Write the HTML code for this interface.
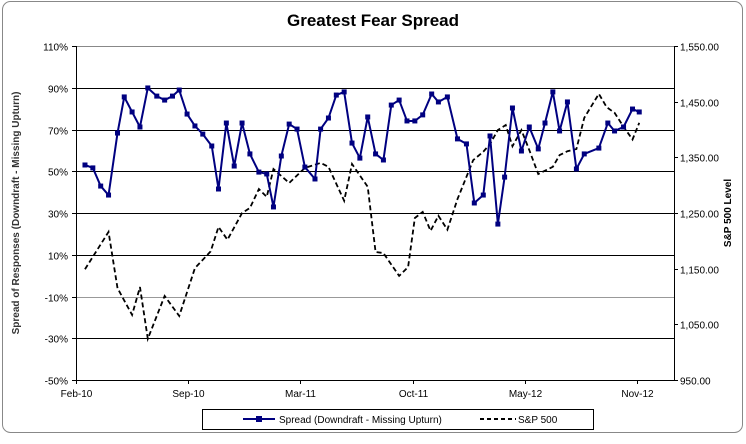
<!DOCTYPE html>
<html><head><meta charset="utf-8"><style>
body{margin:0;background:#fff;font-family:"Liberation Sans",Arial,sans-serif}
svg text{font-family:"Liberation Sans",Arial,sans-serif}
</style></head><body>
<svg id="chart" width="746" height="439" viewBox="0 0 746 439" xmlns="http://www.w3.org/2000/svg">
<rect x="2.5" y="1.5" width="740" height="431" rx="8" fill="#fff" stroke="#888" stroke-width="1"/>
<text x="373" y="26" text-anchor="middle" font-size="17" font-weight="bold">Greatest Fear Spread</text>
<g id="grid"></g>
<g id="axes"></g>
<g id="series"></g>
<text transform="translate(19,213) rotate(-90)" text-anchor="middle" font-size="10" font-weight="bold" fill="#333">Spread of Responses (Downdraft - Missing Upturn)</text>
<text transform="translate(731,213) rotate(-90)" text-anchor="middle" font-size="10" font-weight="bold">S&amp;P 500 Level</text>
<g>
<rect x="202.5" y="409.5" width="391" height="20" fill="#fff" stroke="#000"/>
<g>
<line x1="243" y1="419" x2="275" y2="419" stroke="#000080" stroke-width="2"/>
<rect x="256" y="416" width="6" height="6" fill="#000080"/>
<text x="279" y="423" font-size="10">Spread (Downdraft - Missing Upturn)</text></g>
<g>
<line x1="480" y1="419" x2="516" y2="419" stroke="#000" stroke-width="2" stroke-dasharray="4,3"/>
<text x="518" y="423" font-size="10">S&amp;P 500</text></g>
</g>
</svg>
<script>
const xTickVals=[0,1,2,3,4,5];
const xTickLabels=["Feb-10","Sep-10","Mar-11","Oct-11","May-12","Nov-12"];
const leftTicks=[110,90,70,50,30,10,-10,-30,-50];
const rightTicks=[1550,1450,1350,1250,1150,1050,950];
const rightTickLabels=["1,550.00","1,450.00","1,350.00","1,250.00","1,150.00","1,050.00","950.00"];
const spreadT=[.08,.15,.22,.29,.37,.43,.50,.57,.64,.72,.79,.86,.92,.99,1.06,1.13,1.21,1.27,1.34,1.41,1.48,1.55,1.63,1.70,1.76,1.83,1.90,1.97,2.04,2.13,2.18,2.25,2.32,2.39,2.46,2.53,2.60,2.67,2.74,2.81,2.88,2.95,3.02,3.09,3.17,3.23,3.31,3.40,3.48,3.55,3.63,3.69,3.76,3.82,3.89,3.97,4.04,4.12,4.18,4.25,4.31,4.38,4.46,4.53,4.66,4.74,4.80,4.88,4.96,5.02];
const spreadVals=[53.0,51.6,42.9,38.6,68.3,85.6,78.4,71.2,89.9,86.0,84.1,86.0,88.9,77.4,71.7,67.8,62.1,41.5,73.1,52.5,73.1,58.3,49.6,48.7,32.9,57.3,72.6,70.2,52.0,46.3,70.2,75.5,86.5,88.0,63.5,56.3,76.0,58.3,55.4,81.7,84.1,74.1,74.1,77.0,87.0,83.2,85.6,65.5,63.1,34.8,38.6,66.9,24.7,47.2,80.3,59.7,71.2,60.7,73.1,88.0,69.3,83.2,51.1,58.3,61.1,73.1,69.3,71.2,79.8,78.4];
const spxT=[.08,.29,.37,.50,.57,.64,.79,.92,1.06,1.20,1.27,1.35,1.48,1.55,1.63,1.70,1.76,1.90,2.04,2.18,2.25,2.39,2.46,2.60,2.67,2.74,2.88,2.96,3.02,3.09,3.16,3.23,3.31,3.40,3.48,3.54,3.63,3.69,3.76,3.83,3.89,3.97,4.04,4.12,4.25,4.31,4.38,4.46,4.53,4.66,4.73,4.80,4.88,4.96,5.02];
const spxVals=[1149,1216,1115,1067,1117,1024,1101,1065,1151,1181,1225,1202,1250,1259,1293,1279,1329,1304,1331,1340,1333,1272,1338,1297,1180,1178,1137,1153,1241,1252,1218,1245,1220,1275,1315,1345,1360,1374,1399,1408,1370,1399,1363,1320,1333,1354,1361,1365,1421,1464,1440,1430,1405,1382,1412];

const X0=76,X1=674,Y0=46,Y1=380;
const xs=t=>X0+t*112.2;
const yL=v=>Y0+(110-v)/160*(Y1-Y0);
const yR=v=>Y0+(1550-v)/600*(Y1-Y0);
const NS="http://www.w3.org/2000/svg";
function mk(tag,attrs,parent){const e=document.createElementNS(NS,tag);for(const k in attrs)e.setAttribute(k,attrs[k]);parent.appendChild(e);return e;}
const grid=document.getElementById('grid'),axes=document.getElementById('axes'),ser=document.getElementById('series');

leftTicks.forEach(v=>{
  const y=Math.round(yL(v))+.5;
  if(v<110&&v>-50){const l=mk('line',{x1:X0,x2:X1,y1:y,y2:y,stroke:v==-10?'#999':'#000','stroke-width':1},grid);
  
  }
  const tk=mk('line',{x1:X0-4,x2:X0,y1:y,y2:y,stroke:'#000'},axes);
  const t=mk('text',{x:X0-8,y:y+4,'text-anchor':'end','font-size':10},axes);
  t.textContent=v+'%';
  
  
});
mk('line',{x1:X0,x2:X1,y1:Y0+.5,y2:Y0+.5,stroke:'#888'},grid);
mk('line',{x1:X0+.5,x2:X0+.5,y1:Y0,y2:Y1,stroke:'#000'},axes);
mk('line',{x1:X0,x2:X1,y1:Y1+.5,y2:Y1+.5,stroke:'#000'},axes);
mk('line',{x1:X1+.5,x2:X1+.5,y1:Y0,y2:Y1,stroke:'#000'},axes);
rightTicks.forEach((v,i)=>{
  const y=Math.round(yR(v))+.5;
  mk('line',{x1:X1,x2:X1+4,y1:y,y2:y,stroke:'#000'},axes);
  const t=mk('text',{x:X1+6,y:y+4,'font-size':10},axes);
  t.textContent=rightTickLabels[i];
  
  
});
xTickVals.forEach((v,i)=>{
  const x=Math.round(xs(v))+.5;
  mk('line',{x1:x,x2:x,y1:Y1,y2:Y1+4,stroke:'#000'},axes);
  const t=mk('text',{x:x,y:Y1+17,'text-anchor':'middle','font-size':10},axes);
  t.textContent=xTickLabels[i];
  
  
});
const spx=mk('polyline',{points:spxT.map((t,i)=>xs(t)+','+yR(spxVals[i])).join(' '),fill:'none',stroke:'#000','stroke-width':1.8,'stroke-dasharray':'5,3'},ser);


const sp=mk('polyline',{points:spreadT.map((t,i)=>xs(t)+','+yL(spreadVals[i])).join(' '),fill:'none',stroke:'#000080','stroke-width':2,'stroke-linejoin':'round'},ser);


spreadT.forEach((t,i)=>{
  const r=mk('rect',{x:xs(t)-2.5,y:yL(spreadVals[i])-2.5,width:5,height:5,fill:'#000080'},ser);
  
  
});
</script>
</body></html>
